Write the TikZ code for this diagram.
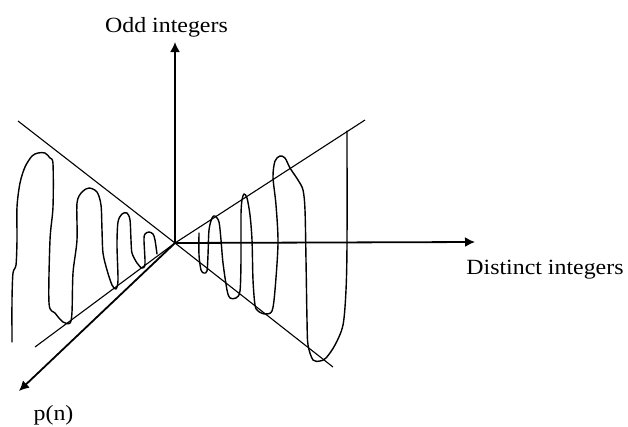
\documentclass[tikz,border=0pt]{standalone}
\usepackage{fontspec}
\setmainfont{Liberation Serif}[FakeStretch=1.1]
\usetikzlibrary{arrows.meta}
\begin{document}
\begin{tikzpicture}[x=1pt,y=-1pt,
  axis/.style={line width=1.8pt,-{Latex[length=10pt,width=10pt]}},
  cone/.style={line width=1.1pt},
  coil/.style={line width=1.4pt,line join=round,line cap=round},
  lab/.style={font=\fontsize{21.7}{26}\selectfont,inner sep=0pt,anchor=base}]
\useasboundingbox (0,0) rectangle (628,426);
% origin and axis ends
\coordinate (O) at (175,243);
\coordinate (Ytip) at (175,42);
\coordinate (Xtip) at (475,242);
\coordinate (Ptip) at (19,391);
% cone line ends
\coordinate (A1) at (18,121);
\coordinate (A2) at (333,367);
\coordinate (B1) at (35,347);
\coordinate (B2) at (365,120);
% cone lines
\draw[cone] (A1) -- (O) -- (A2);
\draw[cone] (B1) -- (O) -- (B2);
% axes
\draw[axis] (O) -- (Ytip);
\draw[axis] (O) -- (Xtip);
\draw[axis] (O) -- (Ptip);
% labels
\node[lab] (odd) at (166.5,32) {Odd integers};
\node[lab] (dist) at (545,274) {Distinct integers};
\node[lab] (pn) at (53.5,420) {p(n)};
% right coil
\draw[coil] plot[smooth,tension=0.5] coordinates {
 (199,233) (199,255) (201,270) (204,273) (207,271) (208,255) (209,230)
 (212,218) (215,216) (219,222) (221,240) (223,263) (227,290) (230,298)
 (236,298) (240,291) (241,260) (241,215) (242,200) (244,194) (247,198)
 (250,215) (252,240) (253,280) (255,305) (258,311) (265,314) (272,311)
 (275,290) (278,243) (276,205) (273,177) (275,161) (280,156) (285,158)
 (290,168) (298,180) (303,190) (305,210) (306,260) (307,320) (308,345)
 (313,360) (320,361) (326,358) (335,345) (343,325) (346,290) (347,243)
 (347,131)};
% left coil
\draw[coil] plot[smooth,tension=0.5] coordinates {
 (12,342) (12,300) (13,273) (16,265) (17,240) (17,207) (20,183) (25,167)
 (32,156) (38,153) (45,153) (50,158) (53,164) (53,207) (50,240) (49,303)
 (55,313) (63,322) (70,323) (72,312) (73,273) (77,240) (77,203) (82,192)
 (89,188) (97,192) (101,205) (102,230) (103,253) (107,270) (112,285)
 (116,289) (118,280) (117,245) (118,222) (122,214) (127,213) (130,220)
 (131,240) (132,253) (137,263) (142,268) (145,264) (144,240) (145,234)
 (149,232) (153,234) (155,240) (157,254)};
\end{tikzpicture}
\end{document}
